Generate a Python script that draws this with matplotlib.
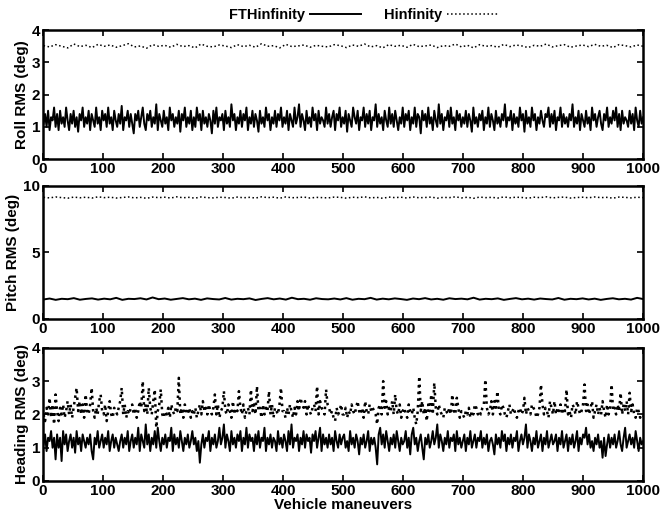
import numpy as np
import matplotlib
matplotlib.use("Agg")
import matplotlib.pyplot as plt

plt.rcParams['font.family'] = ['Liberation Sans', 'DejaVu Sans']
plt.rcParams['font.weight'] = 'bold'

#Legend names
series_names = ["FTHinfinity", "Hinfinity"]
y_labels = ["Roll RMS (deg)", "Pitch RMS (deg)", "Heading RMS (deg)"]
x_label = "Vehicle maneuvers"
x_ticks = [0, 100, 200, 300, 400, 500, 600, 700, 800, 900, 1000]

#Roll RMS, FTHinfinity (one value every 2.5 maneuvers, one row = 25 maneuvers)
roll_fth = [
    1.1, 1.4, 1.0, 1.5, 0.9, 1.3, 1.2, 1.6, 1.0, 1.4,
    0.9, 1.5, 1.1, 1.3, 1.0, 1.6, 1.2, 0.9, 1.4, 1.1,
    1.5, 1.0, 1.3, 0.85, 1.4, 1.2, 1.6, 1.0, 1.3, 1.1,
    1.5, 0.9, 1.4, 1.2, 1.0, 1.6, 1.1, 1.3, 0.9, 1.5,
    1.2, 1.4, 1.0, 1.6, 1.1, 1.3, 0.9, 1.5, 1.2, 1.0,
    1.4, 1.1, 1.65, 0.9, 1.3, 1.2, 1.5, 1.0, 1.4, 1.1,
    0.8, 1.4, 1.2, 1.5, 1.0, 1.3, 1.6, 1.1, 0.9, 1.4,
    1.2, 1.5, 1.0, 1.3, 1.1, 1.7, 0.9, 1.4, 1.2, 1.0,
    1.5, 1.1, 1.3, 0.9, 1.6, 1.2, 1.4, 1.0, 1.3, 1.1,
    1.5, 0.85, 1.4, 1.2, 1.6, 1.0, 1.3, 1.1, 1.5, 0.9,
    1.3, 1.0, 1.6, 1.2, 1.4, 0.9, 1.5, 1.1, 1.3, 1.0,
    1.4, 1.2, 0.8, 1.5, 1.1, 1.6, 1.0, 1.3, 1.2, 1.4,
    0.9, 1.5, 1.1, 1.3, 1.0, 1.7, 1.2, 1.4, 0.9, 1.3,
    1.1, 1.5, 1.0, 1.4, 1.2, 1.6, 0.9, 1.3, 1.1, 1.5,
    1.0, 1.4, 1.2, 0.85, 1.5, 1.1, 1.3, 1.0, 1.6, 1.2,
    1.4, 0.9, 1.3, 1.1, 1.5, 1.0, 1.4, 1.2, 1.6, 1.0,
    1.3, 1.1, 1.5, 0.9, 1.4, 1.2, 1.0, 1.6, 1.1, 1.3,
    1.7, 1.0, 1.4, 1.2, 0.9, 1.5, 1.1, 1.3, 1.0, 1.6,
    1.2, 1.4, 0.9, 1.5, 1.1, 1.3, 1.2, 1.0, 1.6, 1.1,
    1.4, 1.0, 1.3, 1.5, 0.9, 1.4, 1.2, 1.6, 1.0, 1.3,
    1.1, 1.5, 0.85, 1.4, 1.2, 1.0, 1.6, 1.3, 1.1, 1.5,
    0.9, 1.3, 1.2, 1.6, 1.0, 1.4, 1.1, 1.5, 0.9, 1.3,
    1.2, 1.7, 1.0, 1.4, 1.1, 1.3, 0.9, 1.5, 1.2, 1.0,
    1.6, 1.1, 1.4, 1.0, 1.5, 1.2, 0.9, 1.3, 1.1, 1.6,
    1.0, 1.4, 1.2, 1.5, 0.9, 1.3, 1.1, 1.6, 1.0, 1.4,
    1.3, 0.8, 1.5, 1.2, 1.4, 1.0, 1.6, 1.1, 1.3, 0.9,
    1.5, 1.2, 1.0, 1.7, 1.1, 1.4, 0.9, 1.3, 1.2, 1.5,
    1.0, 1.6, 1.1, 1.3, 0.9, 1.5, 1.2, 1.4, 1.0, 1.3,
    1.1, 1.5, 1.0, 1.4, 1.2, 0.85, 1.6, 1.1, 1.3, 1.0,
    1.4, 1.2, 1.5, 0.9, 1.3, 1.1, 1.6, 1.0, 1.4, 1.2,
    0.9, 1.5, 1.1, 1.3, 1.0, 1.4, 1.2, 1.7, 1.0, 1.3,
    1.2, 1.5, 0.9, 1.4, 1.1, 1.3, 1.0, 1.6, 1.2, 1.4,
    0.85, 1.5, 1.1, 1.3, 1.0, 1.6, 1.2, 1.4, 0.9, 1.3,
    1.1, 1.5, 1.2, 1.0, 1.4, 1.3, 1.6, 1.0, 1.4, 1.1,
    1.5, 0.9, 1.3, 1.2, 1.6, 1.0, 1.4, 1.1, 1.3, 1.0,
    1.4, 1.2, 1.7, 1.0, 1.3, 1.1, 1.5, 0.9, 1.4, 1.2,
    1.0, 1.5, 1.1, 1.3, 0.9, 1.6, 1.2, 1.4, 1.0, 1.3,
    1.5, 1.1, 0.9, 1.4, 1.2, 1.6, 1.0, 1.3, 1.1, 1.5,
    1.2, 1.6, 1.0, 1.4, 0.9, 1.5, 1.1, 1.3, 1.2, 1.0,
    1.5, 1.1, 1.4, 0.9, 1.6, 1.2, 1.0, 1.5, 1.1, 1.3,
]

#Roll RMS, Hinfinity (every 10th maneuver)
roll_hinf = [
    3.52, 3.48, 3.55, 3.50, 3.45, 3.57, 3.49, 3.53, 3.46, 3.56,
    3.50, 3.54, 3.47, 3.52, 3.58, 3.48, 3.51, 3.44, 3.55, 3.50,
    3.53, 3.47, 3.56, 3.49, 3.52, 3.45, 3.57, 3.50, 3.48, 3.54,
    3.51, 3.46, 3.55, 3.49, 3.53, 3.47, 3.58, 3.50, 3.52, 3.45,
    3.56, 3.49, 3.51, 3.54, 3.47, 3.53, 3.50, 3.48, 3.55, 3.52,
    3.46, 3.54, 3.50, 3.57, 3.48, 3.52, 3.45, 3.55, 3.50, 3.53,
    3.47, 3.56, 3.49, 3.51, 3.54, 3.46, 3.52, 3.50, 3.57, 3.48,
    3.53, 3.45, 3.55, 3.50, 3.52, 3.47, 3.56, 3.49, 3.54, 3.51,
    3.46, 3.53, 3.50, 3.57, 3.48, 3.52, 3.55, 3.47, 3.51, 3.54,
    3.49, 3.56, 3.50, 3.53, 3.46, 3.55, 3.52, 3.48, 3.54, 3.50,
]

#Pitch RMS, FTHinfinity (every 10th maneuver)
pitch_fth = [
    1.45, 1.52, 1.42, 1.50, 1.47, 1.55, 1.43, 1.49, 1.53, 1.44,
    1.51, 1.46, 1.57, 1.42, 1.50, 1.48, 1.54, 1.45, 1.60, 1.47,
    1.52, 1.43, 1.49, 1.55, 1.46, 1.51, 1.42, 1.53, 1.48, 1.45,
    1.56, 1.44, 1.50, 1.47, 1.53, 1.41, 1.49, 1.55, 1.46, 1.52,
    1.44, 1.58, 1.47, 1.50, 1.43, 1.54, 1.48, 1.46, 1.52, 1.45,
    1.55, 1.43, 1.50, 1.47, 1.57, 1.44, 1.51, 1.46, 1.53, 1.48,
    1.42, 1.52, 1.47, 1.55, 1.45, 1.50, 1.43, 1.54, 1.48, 1.51,
    1.46, 1.58, 1.44, 1.50, 1.47, 1.53, 1.42, 1.49, 1.55, 1.46,
    1.51, 1.44, 1.52, 1.48, 1.45, 1.56, 1.43, 1.50, 1.47, 1.53,
    1.45, 1.51, 1.42, 1.49, 1.54, 1.46, 1.50, 1.44, 1.57, 1.48,
]

#Pitch RMS, Hinfinity (every 10th maneuver)
pitch_hinf = [
    9.12, 9.08, 9.15, 9.10, 9.06, 9.14, 9.09, 9.13, 9.07, 9.16,
    9.10, 9.13, 9.07, 9.11, 9.15, 9.08, 9.12, 9.05, 9.14, 9.10,
    9.13, 9.07, 9.16, 9.09, 9.12, 9.06, 9.15, 9.10, 9.08, 9.13,
    9.11, 9.06, 9.14, 9.09, 9.12, 9.07, 9.16, 9.10, 9.13, 9.06,
    9.15, 9.09, 9.11, 9.14, 9.07, 9.12, 9.10, 9.08, 9.14, 9.12,
    9.06, 9.13, 9.10, 9.16, 9.08, 9.12, 9.05, 9.14, 9.10, 9.13,
    9.07, 9.15, 9.09, 9.11, 9.14, 9.06, 9.12, 9.10, 9.16, 9.08,
    9.13, 9.05, 9.14, 9.10, 9.12, 9.07, 9.15, 9.09, 9.13, 9.11,
    9.06, 9.13, 9.10, 9.16, 9.08, 9.12, 9.14, 9.07, 9.11, 9.13,
    9.09, 9.15, 9.10, 9.12, 9.06, 9.14, 9.12, 9.08, 9.13, 9.10,
]

#Heading RMS, FTHinfinity (one value every 2.5 maneuvers, one row = 25 maneuvers)
heading_fth = [
    1.1, 1.4, 0.9, 1.3, 1.2, 1.5, 1.0, 1.3, 0.65, 1.4,
    1.0, 1.3, 0.6, 1.5, 1.1, 1.4, 0.9, 1.2, 1.4, 1.0,
    1.3, 0.85, 1.5, 1.1, 1.3, 0.9, 1.4, 1.2, 1.0, 1.3,
    1.1, 1.4, 0.9, 0.65, 1.3, 1.1, 1.5, 1.0, 1.2, 1.4,
    1.0, 1.3, 1.1, 1.5, 0.9, 1.2, 1.4, 1.0, 1.3, 1.1,
    0.9, 1.2, 1.4, 1.0, 1.3, 1.1, 1.5, 0.9, 1.2, 1.4,
    1.0, 1.3, 1.1, 1.6, 0.9, 1.4, 1.2, 1.0, 1.7, 1.1,
    1.4, 0.9, 1.3, 1.1, 1.5, 1.0, 1.6, 1.2, 0.9, 1.3,
    1.1, 1.4, 1.0, 1.3, 1.2, 1.6, 0.9, 1.4, 1.1, 1.3,
    1.0, 1.5, 1.2, 0.9, 1.3, 1.1, 1.4, 1.0, 1.2, 1.5,
    1.1, 1.3, 0.9, 1.2, 0.55, 1.1, 1.4, 1.0, 1.3, 1.2,
    1.5, 0.9, 1.3, 1.1, 1.4, 1.0, 1.2, 1.6, 1.1, 1.3,
    1.7, 1.0, 1.4, 1.2, 0.9, 1.5, 1.1, 1.3, 1.0, 1.4,
    1.2, 1.5, 0.9, 1.3, 1.1, 1.6, 1.0, 1.4, 1.2, 1.3,
    0.9, 1.4, 1.1, 1.5, 1.0, 1.3, 1.2, 1.6, 0.9, 1.3,
    1.1, 1.4, 1.0, 1.3, 1.2, 0.9, 1.5, 1.1, 1.3, 1.0,
    1.4, 1.2, 0.9, 1.5, 1.1, 1.7, 1.0, 1.3, 1.2, 1.4,
    0.9, 1.3, 1.1, 1.5, 1.0, 1.4, 1.2, 1.3, 0.85, 1.4,
    1.2, 1.5, 1.0, 1.3, 1.6, 0.9, 1.4, 1.1, 1.3, 1.0,
    1.4, 1.1, 1.3, 0.9, 1.5, 1.2, 1.0, 1.4, 1.1, 1.3,
    1.4, 1.0, 1.2, 0.9, 1.5, 1.1, 1.3, 1.0, 1.4, 1.2,
    0.8, 1.3, 1.1, 1.4, 1.0, 1.2, 1.5, 0.9, 1.3, 1.1,
    1.3, 1.0, 0.5, 1.4, 1.6, 1.1, 1.4, 1.0, 1.5, 1.2,
    0.9, 1.3, 1.1, 1.4, 1.0, 1.5, 1.2, 0.9, 1.3, 1.1,
    1.2, 1.5, 1.0, 1.3, 0.8, 1.4, 1.6, 1.1, 1.3, 0.9,
    1.2, 1.4, 1.0, 0.65, 1.3, 1.1, 1.4, 1.0, 1.2, 1.5,
    1.1, 1.3, 1.7, 1.0, 1.4, 1.2, 0.9, 1.3, 1.1, 1.5,
    1.0, 1.3, 1.2, 1.4, 0.9, 1.5, 1.1, 1.3, 1.0, 1.2,
    1.4, 0.9, 1.3, 1.1, 1.5, 1.0, 1.2, 1.4, 1.0, 1.3,
    1.2, 1.5, 1.0, 1.3, 1.1, 1.4, 0.9, 1.2, 1.3, 1.1,
    0.8, 1.4, 1.1, 1.3, 1.0, 1.5, 1.2, 1.4, 0.9, 1.3,
    1.1, 1.4, 1.0, 1.3, 1.2, 1.5, 0.9, 1.2, 1.4, 1.1,
    1.3, 1.7, 1.0, 1.4, 1.2, 0.9, 1.3, 1.1, 1.5, 1.0,
    1.2, 1.4, 0.9, 1.3, 1.1, 1.5, 1.0, 1.2, 1.4, 1.1,
    1.2, 1.4, 0.9, 1.3, 1.1, 1.5, 1.0, 1.2, 1.4, 0.9,
    1.3, 1.1, 1.4, 1.0, 1.2, 1.5, 0.9, 1.3, 1.1, 1.4,
    1.3, 1.6, 1.1, 1.4, 1.0, 1.2, 0.9, 1.3, 1.1, 1.4,
    1.0, 1.2, 0.7, 1.3, 0.75, 1.1, 1.4, 1.0, 1.3, 1.1,
    1.4, 1.0, 1.2, 1.5, 1.1, 0.9, 1.3, 1.6, 1.0, 1.2,
    1.4, 1.1, 1.3, 1.0, 1.5, 1.2, 0.9, 1.3, 1.1, 1.2,
]

#Heading RMS, Hinfinity (one value every 2.5 maneuvers, one row = 25 maneuvers)
heading_hinf = [
    2.0, 1.8, 2.2, 2.0, 2.5, 1.9, 2.3, 1.7, 2.6, 2.1,
    1.8, 2.2, 2.0, 2.3, 1.9, 2.1, 2.4, 2.0, 2.3, 1.9,
    2.2, 2.5, 2.8, 2.1, 2.4, 2.0, 2.3, 1.9, 2.6, 2.1,
    2.0, 2.3, 2.8, 2.1, 1.9, 2.2, 2.0, 2.4, 2.6, 2.1,
    2.0, 2.3, 1.8, 2.1, 2.4, 2.0, 1.9, 2.2, 2.1, 2.0,
    2.2, 2.4, 2.8, 2.0, 2.3, 1.9, 2.1, 2.0, 2.2, 2.3,
    2.0, 2.2, 1.9, 2.1, 2.4, 2.2, 3.0, 2.1, 2.3, 2.0,
    2.8, 2.2, 2.0, 2.4, 2.75, 1.6, 2.1, 2.3, 2.75, 2.0,
    1.9, 2.1, 2.0, 2.2, 1.9, 2.3, 2.1, 2.0, 2.2, 2.1,
    3.1, 2.0, 2.2, 1.9, 2.3, 2.1, 2.0, 2.2, 1.9, 2.1,
    2.0, 2.2, 1.9, 2.1, 2.3, 2.0, 2.4, 2.1, 2.2, 2.0,
    2.3, 2.1, 2.0, 2.2, 2.6, 2.0, 2.3, 1.9, 2.1, 2.2,
    2.7, 2.1, 2.0, 2.3, 2.1, 1.9, 2.4, 2.0, 2.2, 2.1,
    2.7, 2.2, 2.0, 2.3, 1.9, 2.1, 2.2, 2.0, 2.75, 2.1,
    2.3, 2.0, 2.85, 2.1, 2.2, 1.9, 2.3, 2.0, 2.2, 2.1,
    2.7, 2.0, 2.3, 1.9, 2.2, 2.1, 2.0, 2.3, 2.8, 2.1,
    2.1, 1.9, 2.2, 2.0, 2.3, 2.1, 1.9, 2.2, 2.0, 2.4,
    2.1, 2.5, 2.3, 2.2, 2.4, 2.0, 2.3, 2.1, 2.0, 2.2,
    2.3, 2.1, 2.85, 2.0, 2.4, 2.2, 2.1, 2.0, 2.75, 2.3,
    2.2, 2.0, 2.1, 1.9, 1.8, 2.2, 2.0, 2.1, 2.3, 2.0,
    2.0, 2.2, 1.9, 2.1, 2.0, 2.3, 2.1, 2.0, 2.2, 2.4,
    2.1, 2.0, 2.2, 1.9, 2.4, 2.1, 2.0, 2.3, 2.1, 2.2,
    2.1, 2.0, 1.7, 2.2, 2.3, 2.0, 3.0, 2.2, 2.4, 2.0,
    2.2, 2.1, 2.4, 2.0, 2.6, 2.1, 2.0, 2.3, 1.9, 2.1,
    2.2, 2.0, 1.9, 2.3, 2.1, 2.0, 2.2, 1.9, 1.7, 2.1,
    3.15, 2.1, 2.4, 2.0, 2.2, 1.8, 2.3, 2.1, 2.6, 2.0,
    2.95, 2.2, 2.0, 2.3, 2.1, 2.0, 1.9, 2.2, 2.1, 2.0,
    2.2, 2.0, 2.6, 2.1, 2.0, 2.5, 2.2, 1.9, 2.1, 2.0,
    1.9, 2.1, 2.0, 2.2, 1.9, 2.1, 2.0, 2.3, 2.2, 2.0,
    2.1, 2.0, 2.2, 2.3, 3.05, 2.2, 2.0, 2.1, 2.4, 2.0,
    2.4, 2.2, 2.7, 2.1, 2.0, 2.3, 2.2, 2.0, 1.9, 2.1,
    2.3, 2.0, 2.1, 2.2, 2.0, 1.9, 2.1, 2.2, 2.0, 2.1,
    2.5, 2.0, 2.2, 2.1, 2.0, 2.3, 2.2, 2.1, 1.9, 2.0,
    2.2, 2.9, 2.3, 2.0, 2.2, 2.1, 1.9, 2.4, 2.2, 2.0,
    2.4, 2.0, 2.2, 2.1, 2.3, 2.0, 2.2, 2.1, 2.75, 2.0,
    2.1, 1.9, 2.3, 2.2, 2.0, 2.4, 2.2, 2.0, 2.1, 2.3,
    2.9, 2.1, 2.3, 2.0, 2.2, 2.4, 1.9, 2.1, 2.3, 2.0,
    2.2, 2.0, 2.4, 2.1, 1.9, 2.3, 2.0, 2.2, 2.9, 2.1,
    2.2, 2.0, 2.3, 2.1, 2.65, 2.0, 2.3, 2.1, 2.4, 2.0,
    2.65, 2.1, 2.3, 2.0, 1.9, 2.2, 2.1, 1.9, 2.0, 1.95,
]

panels = [
    (roll_fth, roll_hinf, [0, 4], [0, 1, 2, 3, 4], 1.1),
    (pitch_fth, pitch_hinf, [0, 10], [0, 5, 10], 1.1),
    (heading_fth, heading_hinf, [0, 4], [0, 1, 2, 3, 4], 1.8),
]

#Axes boxes in figure fraction
boxes = [
    [0.065, 0.694, 0.908, 0.248],
    [0.065, 0.387, 0.908, 0.256],
    [0.065, 0.075, 0.908, 0.256],
]

fig = plt.figure(figsize=(6.61, 5.2), dpi=100)

handles = []
for i, (fth, hinf, ylim, yticks, dot_lw) in enumerate(panels):
    ax = fig.add_axes(boxes[i])
    x_fth = np.linspace(1, 1000, len(fth))
    x_hinf = np.linspace(1, 1000, len(hinf))
    h1, = ax.plot(x_fth, fth, color='black', linestyle='-', linewidth=1.4)
    h2, = ax.plot(x_hinf, hinf, color='black', linestyle=':', linewidth=dot_lw)
    if i == 0:
        handles = [h1, h2]
    ax.set_xlim(0, 1000)
    ax.set_ylim(ylim)
    ax.set_xticks(x_ticks)
    ax.set_yticks(yticks)
    ax.set_ylabel(y_labels[i], fontsize=11, fontweight='bold', labelpad=2)
    ax.tick_params(direction='in', length=4, width=1.2, top=True, right=True,
                   labelsize=11, pad=2)
    for lab in ax.get_xticklabels() + ax.get_yticklabels():
        lab.set_fontweight('bold')
    for sp in ax.spines.values():
        sp.set_linewidth(1.8)
    if i == 2:
        ax.set_xlabel(x_label, fontsize=11, fontweight='bold', labelpad=0)

fig.legend(handles, series_names, loc='center', bbox_to_anchor=(0.55, 0.971),
           ncol=2, frameon=False, markerfirst=False, handlelength=3.5,
           handletextpad=0.3, columnspacing=1.6, prop={'weight': 'bold', 'size': 10.5})

fig.savefig("out.png", dpi=100)
